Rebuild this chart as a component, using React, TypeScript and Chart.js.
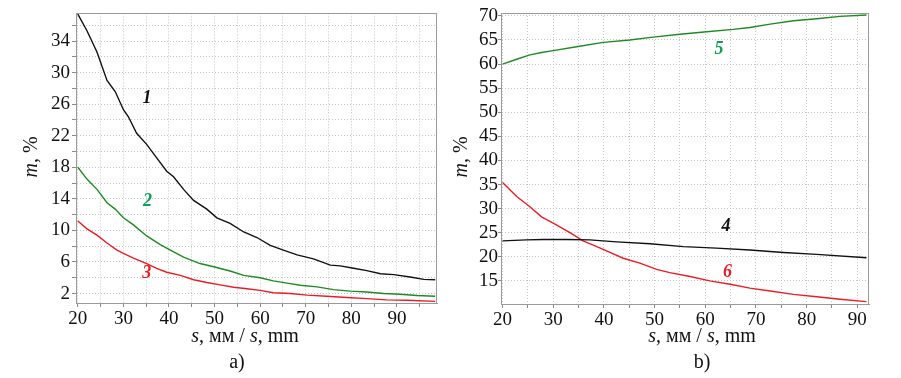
import React, { useEffect, useRef } from 'react';
import { Chart, registerables } from 'chart.js';

Chart.register(...registerables);

// ---------- Panel a) data ----------
const A_S1_X = [20, 22, 24.2, 26.4, 28.2, 30, 31.1, 32.9, 35.1, 37.3, 39.5, 41, 43.2, 45.4, 48.3, 50.5, 53.4, 56.4, 59.3, 62.2, 65.1, 68.1, 71.7, 75.4, 77.6, 80.5, 83.4, 86.4, 89.3, 92.9, 95.9, 98.4];
const A_S1_Y = [37.4, 35.3, 32.6, 29.0, 27.6, 25.3, 24.4, 22.3, 20.9, 19.2, 17.5, 16.8, 15.2, 13.8, 12.7, 11.6, 10.9, 9.8, 9.1, 8.1, 7.5, 6.9, 6.4, 5.6, 5.5, 5.2, 4.9, 4.5, 4.4, 4.1, 3.8, 3.75];
const A_S2_X = [20, 22, 24.2, 26.4, 28.2, 30, 32.2, 35.1, 38.1, 40.3, 43.2, 46.8, 49.8, 53.4, 56.4, 60, 62.9, 66.6, 68.8, 72.5, 76.1, 79.8, 83.4, 87.1, 90.7, 94.4, 98.4];
const A_S2_Y = [18.0, 16.5, 15.2, 13.5, 12.7, 11.6, 10.7, 9.3, 8.2, 7.5, 6.6, 5.8, 5.4, 4.85, 4.3, 4.0, 3.6, 3.25, 3.05, 2.85, 2.5, 2.3, 2.2, 2.0, 1.9, 1.75, 1.65];
const A_S3_X = [20, 22, 24.2, 26.4, 28.6, 30, 32.2, 35.1, 37.3, 39.5, 42.5, 45.4, 48.3, 51.2, 54.2, 57.1, 60, 62.9, 66.6, 70.3, 74.6, 79, 83.4, 87.8, 92.2, 98.4];
const A_S3_Y = [11.2, 10.2, 9.4, 8.4, 7.5, 7.1, 6.5, 5.8, 5.2, 4.7, 4.3, 3.75, 3.4, 3.1, 2.8, 2.6, 2.4, 2.1, 2.0, 1.8, 1.65, 1.5, 1.35, 1.2, 1.15, 1.0];
const A_X_TICKS = [20, 25, 30, 35, 40, 45, 50, 55, 60, 65, 70, 75, 80, 85, 90, 95];
const A_X_LABELS = [20, 30, 40, 50, 60, 70, 80, 90];
const A_Y_TICKS = [2, 4, 6, 8, 10, 12, 14, 16, 18, 20, 22, 24, 26, 28, 30, 32, 34, 36];
const A_Y_LABELS = [2, 6, 10, 14, 18, 22, 26, 30, 34];
const A_CURVE_NAMES = ['1', '2', '3'];
const A_NAME_X = [35.2, 35.3, 35.1];
const A_NAME_Y = [26.7, 13.7, 4.5];

// ---------- Panel b) data ----------
const B_S4_X = [20, 24.7, 28, 32.6, 37.2, 42.5, 49.1, 55.7, 62.2, 68.8, 75.4, 82, 91.8];
const B_S4_Y = [23.3, 23.5, 23.6, 23.6, 23.5, 23.1, 22.7, 22.1, 21.8, 21.4, 20.9, 20.5, 19.8];
const B_S5_X = [20, 22.8, 25.4, 27.7, 30, 34.6, 39.9, 45.1, 49.7, 55, 60.3, 65.5, 68.8, 72.8, 77.4, 82, 86.6, 91.8];
const B_S5_Y = [60.0, 61.0, 61.9, 62.4, 62.8, 63.6, 64.5, 65.0, 65.6, 66.2, 66.7, 67.2, 67.6, 68.3, 69.0, 69.4, 69.9, 70.2];
const B_S6_X = [20, 22.8, 25.4, 27.7, 30, 33.3, 35.9, 38.6, 41.2, 43.8, 47.1, 50.4, 53, 57, 60.9, 64.9, 68.8, 72.8, 77.4, 82, 86.6, 91.8];
const B_S6_Y = [35.4, 32.5, 30.4, 28.3, 27.0, 25.0, 23.3, 22.1, 20.9, 19.7, 18.7, 17.4, 16.7, 15.9, 15.0, 14.3, 13.5, 12.9, 12.2, 11.7, 11.2, 10.7];
const B_X_TICKS = [20, 25, 30, 35, 40, 45, 50, 55, 60, 65, 70, 75, 80, 85, 90];
const B_X_LABELS = [20, 30, 40, 50, 60, 70, 80, 90];
const B_Y_TICKS = [15, 20, 25, 30, 35, 40, 45, 50, 55, 60, 65, 70];
const B_Y_LABELS = [15, 20, 25, 30, 35, 40, 45, 50, 55, 60, 65, 70];
const B_CURVE_NAMES = ['4', '5', '6'];
const B_NAME_X = [64.1, 62.7, 64.4];
const B_NAME_Y = [26.4, 63.1, 16.8];

const X_TITLE = [
  { t: 's', i: true },
  { t: ', мм / ', i: false },
  { t: 's', i: true },
  { t: ', mm', i: false },
];
const Y_TITLE = [
  { t: 'm', i: true },
  { t: ', %', i: false },
];

const BLACK = '#111111';
const GREEN = '#1e8a22';
const RED = '#ea1c24';
const GREEN_LABEL = '#0fa055';
const SERIF = '"Liberation Serif", serif';

function zip(xs: number[], ys: number[]) {
  return xs.map((x, i) => ({ x, y: ys[i] }));
}

function drawRich(ctx: CanvasRenderingContext2D, parts: { t: string; i: boolean }[], cx: number, cy: number, size: number) {
  let total = 0;
  const widths = parts.map((p) => {
    ctx.font = `${p.i ? 'italic ' : ''}${size}px ${SERIF}`;
    const w = ctx.measureText(p.t).width;
    total += w;
    return w;
  });
  let x = cx - total / 2;
  ctx.textAlign = 'left';
  ctx.textBaseline = 'middle';
  parts.forEach((p, k) => {
    ctx.font = `${p.i ? 'italic ' : ''}${size}px ${SERIF}`;
    ctx.fillText(p.t, x, cy);
    x += widths[k];
  });
}

const decorPlugin = {
  id: 'decor',
  afterDraw(chart: any, _args: any, opts: any) {
    const { ctx, chartArea: a } = chart;
    ctx.save();
    ctx.strokeStyle = '#9a9a9a';
    ctx.lineWidth = 1;
    ctx.setLineDash([]);
    ctx.strokeRect(Math.round(a.left) + 0.5, Math.round(a.top) + 0.5, Math.round(a.right - a.left) - 1, Math.round(a.bottom - a.top));
    const xs = chart.scales.x;
    const ys = chart.scales.y;
    ctx.textAlign = 'center';
    ctx.textBaseline = 'middle';
    ctx.font = `italic bold 18px ${SERIF}`;
    opts.names.forEach((n: string, k: number) => {
      ctx.fillStyle = opts.nameColors[k];
      ctx.fillText(n, xs.getPixelForValue(opts.nameX[k]), ys.getPixelForValue(opts.nameY[k]));
    });
    ctx.fillStyle = '#111';
    drawRich(ctx, X_TITLE, opts.xTitlePos[0], opts.xTitlePos[1], 20);
    ctx.save();
    ctx.translate(opts.yTitlePos[0], opts.yTitlePos[1]);
    ctx.rotate(-Math.PI / 2);
    drawRich(ctx, Y_TITLE, 0, 0, 20);
    ctx.restore();
    ctx.font = `20px ${SERIF}`;
    ctx.textAlign = 'center';
    ctx.textBaseline = 'middle';
    ctx.fillText(opts.caption, opts.captionPos[0], opts.captionPos[1]);
    ctx.restore();
  },
};

type PanelProps = {
  series: { data: { x: number; y: number }[]; color: string }[];
  xMin: number; xMax: number; yMin: number; yMax: number;
  xTicks: number[]; xLabels: number[]; yTicks: number[]; yLabels: number[];
  yWidth: number; xHeight: number; padTop: number; padRight: number;
  yTickLen: number; yPad: number;
  names: string[]; nameX: number[]; nameY: number[]; nameColors: string[];
  xTitlePos: number[]; yTitlePos: number[]; caption: string; captionPos: number[];
};

function Panel(p: PanelProps) {
  const ref = useRef<HTMLCanvasElement>(null);
  useEffect(() => {
    if (!ref.current) return;
    const grid = {
      color: '#c4c4c4',
      lineWidth: 1,
      tickColor: '#8a8a8a',
      tickLength: 4,
      drawTicks: true,
    };
    const border = { display: true, color: '#9a9a9a', dash: [1, 2] };
    const chart = new Chart(ref.current, {
      type: 'line',
      data: {
        datasets: p.series.map((s) => ({
          data: s.data,
          borderColor: s.color,
          borderWidth: 1.4,
          pointRadius: 0,
          tension: 0,
          fill: false,
        })),
      },
      options: {
        animation: false,
        responsive: true,
        maintainAspectRatio: false,
        layout: { padding: { top: p.padTop, right: p.padRight, left: 0, bottom: 0 } },
        plugins: {
          legend: { display: false },
          tooltip: { enabled: false },
          decor: {
            names: p.names, nameX: p.nameX, nameY: p.nameY, nameColors: p.nameColors,
            xTitlePos: p.xTitlePos, yTitlePos: p.yTitlePos, caption: p.caption, captionPos: p.captionPos,
          },
        } as any,
        scales: {
          x: {
            type: 'linear',
            min: p.xMin,
            max: p.xMax,
            grid: { ...grid },
            border: { ...border },
            afterBuildTicks: (scale: any) => { scale.ticks = p.xTicks.map((v) => ({ value: v })); },
            afterFit: (scale: any) => { scale.height = p.xHeight; },
            ticks: {
              autoSkip: false,
              maxRotation: 0,
              padding: 1,
              color: '#111',
              font: { family: SERIF, size: 19 },
              callback: (v: any) => (p.xLabels.includes(Number(v)) ? String(v) : ''),
            },
          },
          y: {
            type: 'linear',
            min: p.yMin,
            max: p.yMax,
            grid: { ...grid, tickLength: p.yTickLen },
            border: { ...border },
            afterBuildTicks: (scale: any) => { scale.ticks = p.yTicks.map((v) => ({ value: v })); },
            afterFit: (scale: any) => { scale.width = p.yWidth; },
            ticks: {
              autoSkip: false,
              padding: p.yPad,
              color: '#111',
              font: { family: SERIF, size: 19 },
              callback: (v: any) => (p.yLabels.includes(Number(v)) ? String(v) : ''),
            },
          },
        },
      } as any,
      plugins: [decorPlugin as any],
    });
    return () => chart.destroy();
  }, []);
  return <canvas ref={ref} />;
}

export default function App() {
  return (
    <div style={{ position: 'fixed', left: 0, top: 0, width: 901, height: 378, background: '#fff' }}>
      <div style={{ position: 'absolute', left: 0, top: 0, width: 450, height: 378 }}>
        <Panel
          series={[
            { data: zip(A_S1_X, A_S1_Y), color: BLACK },
            { data: zip(A_S2_X, A_S2_Y), color: GREEN },
            { data: zip(A_S3_X, A_S3_Y), color: RED },
          ]}
          xMin={19.6} xMax={98.8} yMin={0.8} yMax={37.5}
          xTicks={A_X_TICKS} xLabels={A_X_LABELS} yTicks={A_Y_TICKS} yLabels={A_Y_LABELS}
          yWidth={76} xHeight={75} padTop={11} padRight={13}
          yTickLen={4} yPad={2}
          names={A_CURVE_NAMES} nameX={A_NAME_X} nameY={A_NAME_Y} nameColors={[BLACK, GREEN_LABEL, RED]}
          xTitlePos={[245, 337]} yTitlePos={[32, 157]} caption="a)" captionPos={[237, 363]}
        />
      </div>
      <div style={{ position: 'absolute', left: 450, top: 0, width: 451, height: 378 }}>
        <Panel
          series={[
            { data: zip(B_S4_X, B_S4_Y), color: BLACK },
            { data: zip(B_S5_X, B_S5_Y), color: GREEN },
            { data: zip(B_S6_X, B_S6_Y), color: RED },
          ]}
          xMin={19.7} xMax={92.3} yMin={10.2} yMax={70.6}
          xTicks={B_X_TICKS} xLabels={B_X_LABELS} yTicks={B_Y_TICKS} yLabels={B_Y_LABELS}
          yWidth={51} xHeight={74} padTop={13} padRight={32}
          yTickLen={3} yPad={0}
          names={B_CURVE_NAMES} nameX={B_NAME_X} nameY={B_NAME_Y} nameColors={[BLACK, GREEN_LABEL, RED]}
          xTitlePos={[252, 337]} yTitlePos={[12, 157]} caption="b)" captionPos={[252, 363]}
        />
      </div>
    </div>
  );
}
